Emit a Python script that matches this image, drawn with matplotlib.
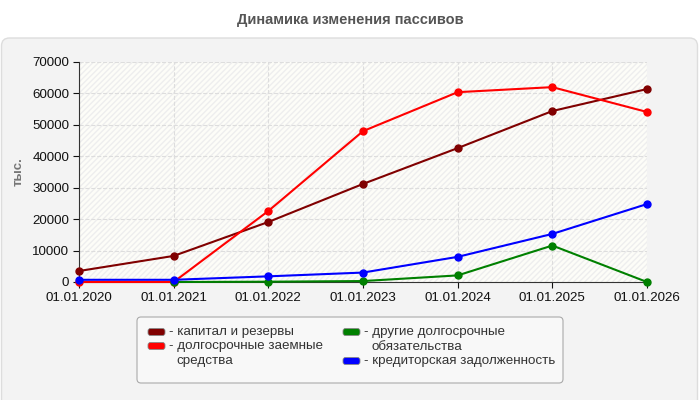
import numpy as np
import matplotlib.pyplot as plt
from matplotlib.patches import FancyBboxPatch, Rectangle

plt.rcParams['font.family'] = ['Liberation Sans', 'DejaVu Sans']

# data (thousands)
dates = ['01.01.2020', '01.01.2021', '01.01.2022', '01.01.2023',
         '01.01.2024', '01.01.2025', '01.01.2026']
capital = [3500, 8300, 19100, 31200, 42600, 54400, 61400]
loans = [0, 0, 22600, 48000, 60400, 62000, 54100]
other_lt = [np.nan, 0, 100, 300, 2100, 11600, 0]
payables = [700, 700, 1800, 3000, 8000, 15300, 24800]

names = ['капитал и резервы', 'долгосрочные заемные\nсредства',
         'другие долгосрочные\nобязательства', 'кредиторская задолженность']
colors = ['#800000', '#ff0000', '#008000', '#0000ff']


def main():
    fig = plt.figure(figsize=(7, 4), dpi=100)
    fig.patch.set_facecolor('white')

    # background layer in pixel coords
    bg = fig.add_axes([0, 0, 1, 1], zorder=0)
    bg.set_xlim(0, 700)
    bg.set_ylim(400, 0)
    bg.axis('off')
    bg.add_patch(FancyBboxPatch((1.5, 38), 696, 370, boxstyle='round,pad=0,rounding_size=8',
                                facecolor='#f3f3f3', edgecolor='#dddddd', lw=1))
    bg.text(350, 20, 'Динамика изменения пассивов', ha='center', va='center',
            fontsize=10.5, fontweight='bold', color='#555555')
    bg.text(19, 172, 'тыс.', rotation=90, ha='center', va='center',
            fontsize=9.5, fontweight='bold', color='#777777')

    # legend box
    bg.add_patch(FancyBboxPatch((137, 317), 426, 66, boxstyle='round,pad=0,rounding_size=4',
                                facecolor='#f8f8f8', edgecolor='#aaaaaa', lw=0.8))
    leg = [(148, 332, 0), (148, 346, 1), (343, 332, 2), (343, 361, 3)]
    for x, y, i in leg:
        bg.add_patch(FancyBboxPatch((x, y - 3.5), 17, 7, boxstyle='round,pad=0,rounding_size=2.5',
                                    facecolor=colors[i], edgecolor='#888888', lw=0.6))
        lines = names[i].split('\n')
        bg.text(x + 21, y, '- ' + lines[0], ha='left', va='center', fontsize=9.6, color='#333333')
        if len(lines) > 1:
            bg.text(x + 28, y + 15, lines[1], ha='left', va='center', fontsize=9.6, color='#333333')

    ax = fig.add_axes([79 / 700, 1 - 282 / 400, 568 / 700, 220 / 400], zorder=1)
    ax.set_facecolor('#fdfdf8')
    ax.add_patch(Rectangle((0, 0), 1, 1, transform=ax.transAxes, facecolor='none',
                           edgecolor='#eeeeee', hatch='//////', lw=0, zorder=0))
    x = np.arange(len(dates))
    series = [capital, loans, other_lt, payables]
    order = [1, 0, 2, 3]
    for i in order:
        ax.plot(x, series[i], color=colors[i], lw=1.5, marker='o', markersize=5,
                clip_on=False, zorder=3 + i)

    ax.set_xlim(0, 6)
    ax.set_ylim(0, 70000)
    ax.set_xticks(x)
    ax.set_xticklabels(dates)
    ax.set_yticks(np.arange(0, 70001, 10000))
    ax.tick_params(labelsize=9.6, colors='#111111', length=4.5, width=0.8, pad=2.5)
    ax.grid(True, color='#dddddd', linestyle='--', lw=0.8)
    ax.set_axisbelow(True)
    for s in ['top', 'right']:
        ax.spines[s].set_visible(False)
    ax.spines['left'].set_color('#333333')
    ax.spines['bottom'].set_color('#333333')

    fig.savefig('out.png', dpi=100)


if __name__ == "__main__":
    main()
